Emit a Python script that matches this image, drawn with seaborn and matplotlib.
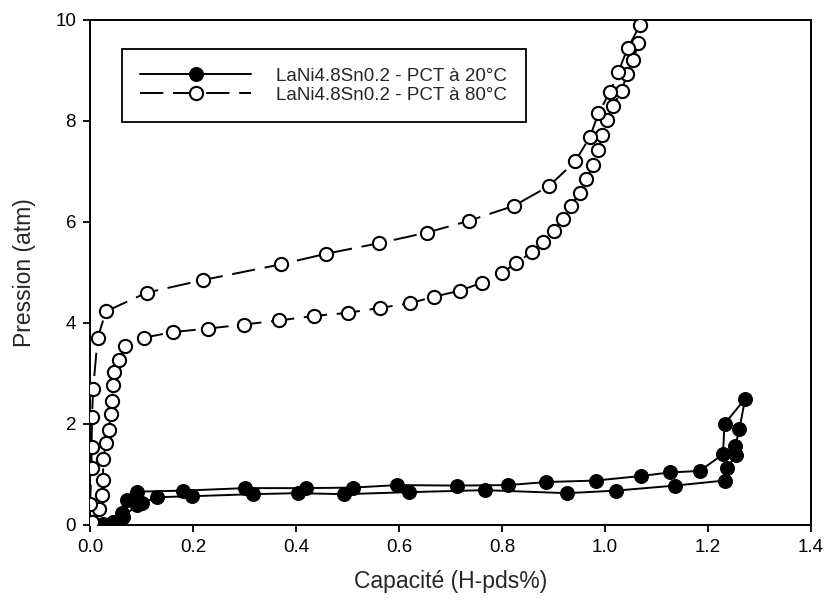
import numpy as np
import pandas as pd
import matplotlib
matplotlib.use("Agg")
import matplotlib.pyplot as plt
import seaborn as sns

# PCT isotherms of LaNi4.8Sn0.2 (capacity in H wt%, pressure in atm)
# 20 °C : absorption branch then desorption branch
abs20_x = [0.025, 0.045, 0.062, 0.071, 0.091, 0.181, 0.301, 0.419, 0.510, 0.597,
           0.713, 0.811, 0.886, 0.982, 1.070, 1.126, 1.184, 1.229, 1.232, 1.272]
abs20_y = [0.02, 0.05, 0.23, 0.50, 0.66, 0.68, 0.73, 0.73, 0.74, 0.79,
           0.78, 0.79, 0.85, 0.88, 0.97, 1.04, 1.07, 1.40, 2.00, 2.50]
des20_x = [1.261, 1.253, 1.255, 1.236, 1.232, 1.136, 1.021, 0.926, 0.767, 0.619,
           0.494, 0.403, 0.316, 0.199, 0.130, 0.100, 0.091, 0.065, 0.045]
des20_y = [1.90, 1.57, 1.39, 1.12, 0.88, 0.78, 0.68, 0.63, 0.69, 0.65,
           0.61, 0.63, 0.61, 0.57, 0.55, 0.43, 0.40, 0.16, 0.03]

# 80 °C : absorption branch then desorption branch
abs80_x = [0.003, 0.018, 0.023, 0.025, 0.026, 0.031, 0.037, 0.040, 0.042, 0.045,
           0.047, 0.056, 0.068, 0.105, 0.161, 0.230, 0.299, 0.367, 0.435, 0.500,
           0.564, 0.621, 0.668, 0.718, 0.762, 0.799, 0.827, 0.858, 0.880, 0.901,
           0.918, 0.933, 0.951, 0.964, 0.977, 0.987, 0.995, 1.003, 1.015, 1.033,
           1.042, 1.055, 1.065, 1.068]
abs80_y = [0.05, 0.31, 0.59, 0.89, 1.31, 1.62, 1.88, 2.20, 2.46, 2.77,
           3.02, 3.27, 3.54, 3.71, 3.82, 3.89, 3.97, 4.05, 4.14, 4.20,
           4.30, 4.39, 4.52, 4.64, 4.80, 4.98, 5.19, 5.40, 5.60, 5.83,
           6.05, 6.32, 6.58, 6.85, 7.13, 7.43, 7.72, 8.02, 8.30, 8.60,
           8.93, 9.21, 9.55, 9.90]
des80_x = [1.044, 1.026, 1.010, 0.987, 0.971, 0.942, 0.891, 0.823, 0.735, 0.654,
           0.561, 0.458, 0.370, 0.219, 0.110, 0.031, 0.015, 0.006, 0.004, 0.003,
           0.003, 0.000, 0.003]
des80_y = [9.44, 8.98, 8.58, 8.15, 7.69, 7.20, 6.71, 6.32, 6.02, 5.79,
           5.58, 5.37, 5.16, 4.85, 4.60, 4.23, 3.71, 2.69, 2.14, 1.54,
           1.13, 0.42, 0.05]

labels = ["LaNi4.8Sn0.2 - PCT à 20°C", "LaNi4.8Sn0.2 - PCT à 80°C"]
x_ticks = [0.0, 0.2, 0.4, 0.6, 0.8, 1.0, 1.2, 1.4]
y_ticks = [0, 2, 4, 6, 8, 10]

df20 = pd.DataFrame({"cap": abs20_x + des20_x, "p": abs20_y + des20_y})
df80 = pd.DataFrame({"cap": abs80_x + des80_x, "p": abs80_y + des80_y})

sns.set_theme(style="ticks")
plt.rcParams["font.family"] = ["Liberation Sans", "DejaVu Sans"]

fig = plt.figure(figsize=(8.28, 6.06), dpi=100)
ax = fig.add_axes([0.1087, 0.1337, 0.8708, 0.8333])

sns.lineplot(data=df20, x="cap", y="p", sort=False, estimator=None, ax=ax,
             color="black", lw=1.4, marker="o", markersize=10,
             markerfacecolor="black", markeredgecolor="black",
             label=labels[0], zorder=3)
sns.lineplot(data=df80, x="cap", y="p", sort=False, estimator=None, ax=ax,
             color="black", lw=1.4, linestyle=(0, (12, 5)), marker="o",
             markersize=9.5, markerfacecolor="white",
             markeredgecolor="black", markeredgewidth=1.5,
             label=labels[1], zorder=4)

ax.set_xlim(0, 1.4)
ax.set_ylim(0, 10)
ax.set_xticks(x_ticks)
ax.set_xticklabels([f"{v:.1f}" for v in x_ticks])
ax.set_yticks(y_ticks)
ax.set_yticklabels([str(v) for v in y_ticks])
ax.tick_params(direction="out", length=5, width=1.3, labelsize=13.5,
               colors="black", pad=5)
for side in ["top", "right", "left", "bottom"]:
    ax.spines[side].set_visible(True)
    ax.spines[side].set_linewidth(1.4)
    ax.spines[side].set_color("black")

ax.set_xlabel("Capacité (H-pds%)", fontsize=16.5, labelpad=10)
ax.set_ylabel("Pression (atm)", fontsize=16.5, labelpad=14)

leg = ax.legend(loc="upper left", bbox_to_anchor=(0.044, 0.943),
                borderaxespad=0, fontsize=13.5, handlelength=5.9,
                handletextpad=1.35, labelspacing=0.1, borderpad=1.0,
                fancybox=False, frameon=True, numpoints=1)
leg.get_frame().set_edgecolor("black")
leg.get_frame().set_linewidth(1.3)
leg.get_frame().set_alpha(1)

fig.savefig("out.png", dpi=100)
